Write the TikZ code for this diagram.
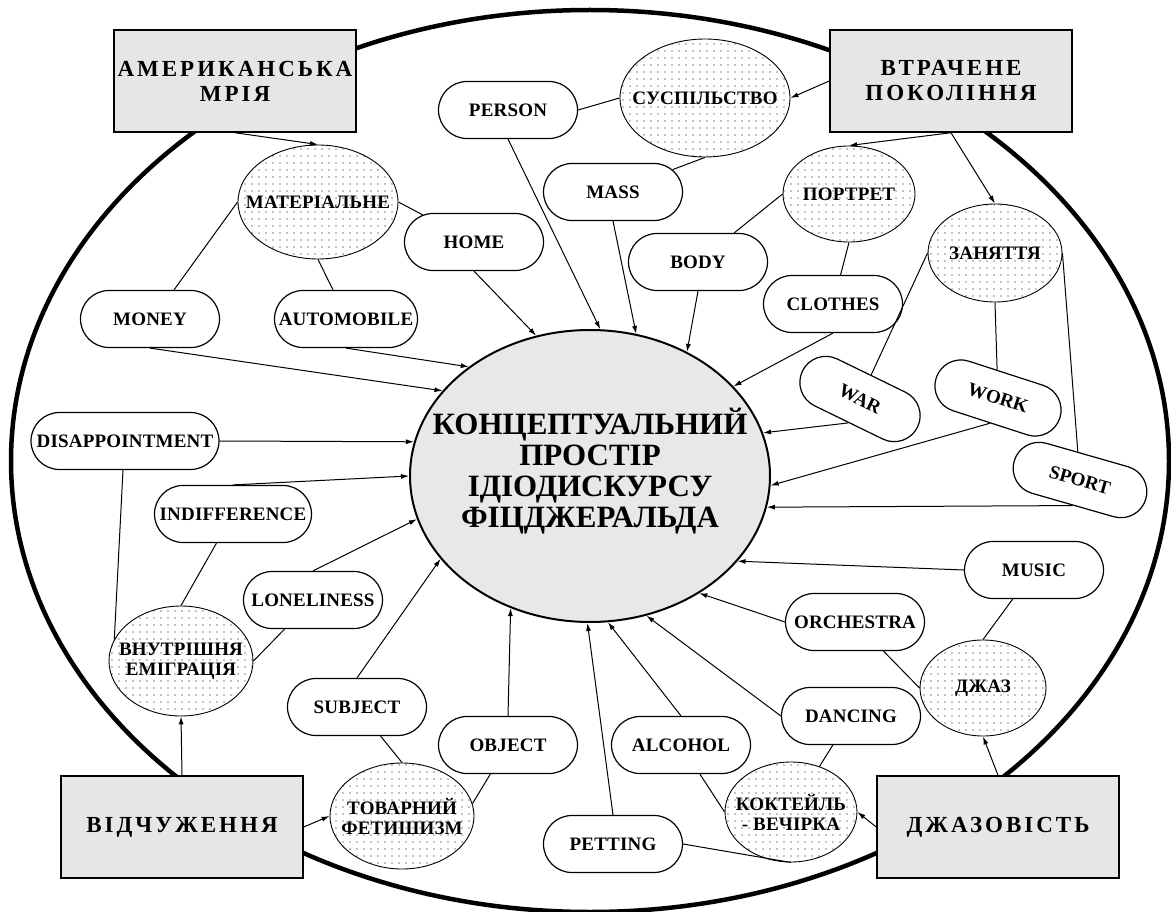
\documentclass[tikz,border=0pt]{standalone}
\usepackage{fontspec}
\setmainfont{Liberation Serif}
\newfontfamily\lblf[LetterSpace=1]{Liberation Serif}
\newfontfamily\boxf[LetterSpace=13]{Liberation Serif}
\newfontfamily\cenf{Liberation Serif}
\usetikzlibrary{shapes.geometric,shapes.misc,patterns.meta,arrows.meta}
\definecolor{boxgray}{HTML}{E6E6E6}
\definecolor{cengray}{HTML}{E8E8E8}
\tikzset{
  pill/.style={draw, line width=1.2pt, fill=white, rounded rectangle, minimum height=57pt, minimum width=139pt, inner sep=0pt, font=\lblf\bfseries\fontsize{19}{20}\selectfont},
  tiltpill/.style={pill, font=\cenf\bfseries\fontsize{19}{20}\selectfont, minimum height=52pt},
  dotell/.style={draw, line width=0.9pt, ellipse, inner sep=0pt, preaction={fill=white}, pattern={Dots[distance=7pt, radius=0.6pt]}},
  elltext/.style={font=\lblf\bfseries\fontsize{19}{20}\selectfont, align=center, inner sep=0pt},
  bigbox/.style={draw, line width=1.5pt, fill=boxgray, minimum width=242pt, minimum height=102pt, inner sep=0pt, font=\boxf\bfseries\fontsize{23}{25}\selectfont, align=center},
  conn/.style={line width=1pt},
  arr/.style={line width=1pt, -{Latex[length=8pt,width=5pt]}},
}
\begin{document}
\begin{tikzpicture}[x=1pt,y=-1pt]
\useasboundingbox (0,0) rectangle (1171,912);
\fill[white] (0,0) rectangle (1171,912);
% outer frame
\draw[line width=4.5pt] (590,461) ellipse [x radius=579pt, y radius=451pt];

% centre
\node[draw, line width=2pt, fill=cengray, ellipse, minimum width=360pt, minimum height=292pt, inner sep=0pt] (c) at (590,476) {};
\node[font=\cenf\bfseries\fontsize{31}{31}\selectfont, align=center, inner sep=0pt] (ct) at (590,471) {КОНЦЕПТУАЛЬНИЙ\\ПРОСТІР\\ІДІОДИСКУРСУ\\ФІЦДЖЕРАЛЬДА};

% boxes
\node[bigbox] (am) at (235,81) {АМЕРИКАНСЬКА\\МРІЯ};
\node[bigbox] (vtr) at (951,81) {ВТРАЧЕНЕ\\ПОКОЛІННЯ};
\node[bigbox] (vid) at (182,827) {ВІДЧУЖЕННЯ};
\node[bigbox] (jzv) at (998,827) {ДЖАЗОВІСТЬ};

% dotted ellipses
\node[dotell, minimum width=160pt, minimum height=114pt] (mat) at (318,202) {};
\node[elltext] (matt) at (mat) {МАТЕРІАЛЬНЕ};
\node[dotell, minimum width=170pt, minimum height=118pt] (soc) at (705,98) {};
\node[elltext] (soct) at (soc) {СУСПІЛЬСТВО};
\node[dotell, minimum width=132pt, minimum height=96pt] (por) at (849,194) {};
\node[elltext] (port) at (por) {ПОРТРЕТ};
\node[dotell, minimum width=134pt, minimum height=98pt] (zan) at (995,253) {};
\node[elltext] (zant) at (zan) {ЗАНЯТТЯ};
\node[dotell, minimum width=144pt, minimum height=110pt] (vnu) at (181,661) {};
\node[elltext] (vnut) at (vnu) {ВНУТРІШНЯ\\ЕМІГРАЦІЯ};
\node[dotell, minimum width=144pt, minimum height=106pt] (tov) at (402,816) {};
\node[elltext] (tovt) at (tov) {ТОВАРНИЙ\\ФЕТИШИЗМ};
\node[dotell, minimum width=132pt, minimum height=100pt] (kok) at (791,812) {};
\node[elltext] (kokt) at (kok) {КОКТЕЙЛЬ\\- ВЕЧІРКА};
\node[dotell, minimum width=126pt, minimum height=96pt] (jaz) at (983,688) {};
\node[elltext] (jazt) at (jaz) {ДЖАЗ};

% pills
\node[pill] (person) at (508,110) {PERSON};
\node[pill] (mass) at (613,192) {MASS};
\node[pill] (home) at (474,242) {HOME};
\node[pill] (body) at (698,262) {BODY};
\node[pill] (clothes) at (833,304) {CLOTHES};
\node[pill] (money) at (150,319) {MONEY};
\node[pill, minimum width=143pt] (auto) at (346,319) {AUTOMOBILE};
\node[pill, minimum width=188pt] (disap) at (125,441) {DISAPPOINTMENT};
\node[pill, minimum width=157pt] (indif) at (233,514) {INDIFFERENCE};
\node[pill] (lone) at (313,600) {LONELINESS};
\node[pill] (subj) at (357,707) {SUBJECT};
\node[pill] (obj) at (508,745) {OBJECT};
\node[pill] (alco) at (681,745) {ALCOHOL};
\node[pill] (pett) at (613,844) {PETTING};
\node[pill] (danc) at (851,716) {DANCING};
\node[pill] (orch) at (855,622) {ORCHESTRA};
\node[pill] (music) at (1034,570) {MUSIC};
\node[tiltpill, rotate=-26, minimum width=128pt] (war) at (860,399) {WAR};
\node[tiltpill, rotate=-18, minimum width=130pt] (work) at (998,398) {WORK};
\node[tiltpill, rotate=-16, minimum width=137pt] (sport) at (1080,480) {SPORT};

% arrows into the centre
\draw[arr] (money.south) -- (c.150);
\draw[arr] (auto.south) -- (c.138);
\draw[arr] (home.south) -- (c.111);
\draw[arr] (person.south) -- (c.86);
\draw[arr] (mass.south) -- (c.72);
\draw[arr] (body.south) -- (c.52);
\draw[arr] (clothes.south) -- (c.32);
\draw[arr] (war.south) -- (c.14);
\draw[arr] (work.south) -- (c.-3);
\draw[arr] (sport.south) -- (c.-10);
\draw[arr] (music.west) -- (c.-30);
\draw[arr] (orch.west) -- (c.-47);
\draw[arr] (danc.west) -- (c.-68);
\draw[arr] (alco.north) -- (c.-83);
\draw[arr] (pett.north) -- (c.-91);
\draw[arr] (obj.north) -- (c.-121);
\draw[arr] (subj.north) -- (c.-151);
\draw[arr] (lone.north) -- (c.-166);
\draw[arr] (indif.north) -- (c.180);
\draw[arr] (disap.east) -- (c.169);

% plain links
\draw[conn] (mat.west) -- ([xshift=24pt]money.north);
\draw[conn] (mat.south) -- ([xshift=-13pt]auto.north);
\draw[conn] (mat.east) -- (home);
\draw[conn] (person.east) -- (soc.west);
\draw[conn] (mass) -- (soc.south);
\draw[conn] (body) -- (por.west);
\draw[conn] (por.south) -- (clothes);
\draw[conn] (zan.west) -- (war);
\draw[conn] (zan.south) -- (work);
\draw[conn] (zan.east) -- (sport);
\draw[conn] (orch) -- (jaz.west);
\draw[conn] (music) -- (jaz.north);
\draw[conn] (danc) -- (kok);
\draw[conn] (alco) -- (kok.west);
\draw[conn] (pett.east) -- (kok.south);
\draw[conn] (subj) -- (tov.north);
\draw[conn] (obj) -- (tov.10);
\draw[conn] ([xshift=-2pt]disap.south) -- (vnu.162);
\draw[conn] (indif) -- (vnu.north);
\draw[conn] (lone) -- (vnu.east);

% arrows from the boxes
\draw[arr] (am.south) -- (mat.north);
\draw[arr] (vtr.west) -- (soc.east);
\draw[arr] (vtr.south) -- (por.north);
\draw[arr] (vtr.south) -- (zan.north);
\draw[arr] (vid.north) -- (vnu.south);
\draw[arr] (vid.east) -- (tov.west);
\draw[arr] (jzv.north) -- (jaz.south);
\draw[arr] (jzv.west) -- (kok.east);
\end{tikzpicture}
\end{document}
